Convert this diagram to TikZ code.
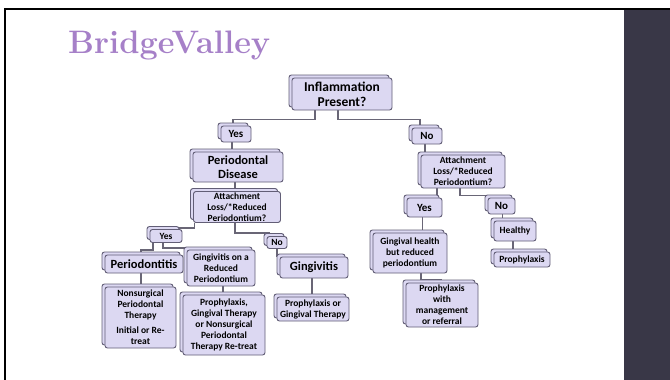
\documentclass[tikz,border=0pt]{standalone}
\usepackage{fontspec}
\newfontfamily\boxfont{Carlito}
\usetikzlibrary{backgrounds}
\definecolor{boxfill}{RGB}{220,216,242}
\definecolor{boxline}{RGB}{98,94,118}
\definecolor{linkcol}{RGB}{105,102,118}
\definecolor{titlecol}{RGB}{166,128,200}
\definecolor{panel}{RGB}{57,55,71}
\tikzset{
  flowbox/.style={rectangle, rounded corners=2.5pt, draw=boxline, fill=boxfill,
    line width=0.9pt,
    % a second, identical box peeking out above and to the left
    preaction={draw=boxline, fill=boxfill, line width=0.9pt,
      transform canvas={xshift=-3pt, yshift=3pt}},
    align=center, inner sep=1pt, text=black},
  bigtxt/.style={font=\boxfont\bfseries\fontsize{13.5}{15}\selectfont},
  midtxt/.style={font=\boxfont\bfseries\fontsize{12.5}{14}\selectfont},
  anstxt/.style={font=\boxfont\bfseries\fontsize{11}{13}\selectfont},
  smalltxt/.style={font=\boxfont\bfseries\fontsize{9.5}{11}\selectfont},
  link/.style={draw=linkcol, line width=1.1pt},
}
\begin{document}
\begin{tikzpicture}[x=1pt,y=-1pt]
\useasboundingbox (0,0) rectangle (670,380);
% heading
\node[anchor=base west, inner sep=0, text=titlecol,
  font=\fontsize{32.5}{38}\selectfont\bfseries] (title) at (68,53) {BridgeValley};

% decision tree
\node[flowbox, bigtxt, minimum width=100pt, minimum height=32pt] (inf) at (342,94) {Inflammation\\Present?};
\node[flowbox, anstxt, minimum width=30pt, minimum height=16pt] (yes1) at (236,134) {Yes};
\node[flowbox, anstxt, minimum width=30pt, minimum height=16pt] (no1) at (427,136) {No};
\node[flowbox, midtxt, minimum width=90pt, minimum height=30pt] (pd) at (238,167) {Periodontal\\Disease};
\node[flowbox, smalltxt, minimum width=87pt, minimum height=31pt] (attL) at (237,207) {Attachment\\Loss/*Reduced\\Periodontium?};
\node[flowbox, smalltxt, minimum width=84pt, minimum height=33pt] (attR) at (463,171.5) {Attachment\\Loss/*Reduced\\Periodontium?};
\node[flowbox, smalltxt, minimum width=32pt, minimum height=13pt] (yes2) at (166,236) {Yes};
\node[flowbox, smalltxt, minimum width=20pt, minimum height=12pt] (no2) at (277,242.5) {No};
\node[flowbox, midtxt, minimum width=78pt, minimum height=18pt] (perio) at (144,264) {Periodontitis};
\node[flowbox, smalltxt, minimum width=68pt, minimum height=36pt] (gingR) at (221,268) {Gingivitis on a\\Reduced\\Periodontium};
\node[flowbox, midtxt, minimum width=68pt, minimum height=21pt] (ging) at (314,267.5) {Gingivitis};
\node[flowbox, smalltxt, minimum width=71pt, minimum height=61pt] (nonsurg) at (140.5,317.5) {Nonsurgical\\Periodontal\\Therapy\\[4pt]Initial or Re-\\treat};
\node[flowbox, smalltxt, minimum width=82pt, minimum height=60pt] (prophGT) at (224,325) {Prophylaxis,\\Gingival Therapy\\or Nonsurgical\\Periodontal\\Therapy Re-treat};
\node[flowbox, smalltxt, minimum width=72pt, minimum height=24pt] (propOr) at (313,309) {Prophylaxis or\\Gingival Therapy};
\node[flowbox, anstxt, minimum width=35pt, minimum height=19pt] (yes3) at (424.5,207.5) {Yes};
\node[flowbox, anstxt, minimum width=27pt, minimum height=16pt] (no3) at (501.5,206) {No};
\node[flowbox, smalltxt, minimum width=42pt, minimum height=20pt] (healthy) at (515,231) {Healthy};
\node[flowbox, smalltxt, minimum width=56pt, minimum height=15pt] (prophR) at (522,259.5) {Prophylaxis};
\node[flowbox, smalltxt, minimum width=74pt, minimum height=40pt] (gingH) at (410,253) {Gingival health\\but reduced\\periodontium};
\node[flowbox, smalltxt, minimum width=72pt, minimum height=44pt] (prophM) at (442,305) {Prophylaxis\\with\\management\\or referral};

\begin{scope}[on background layer]
% slide ground, frame and side panel
\fill[white] (0,0) rectangle (670,380);
\fill[panel] (624,10) rectangle (670,380);
\draw[black, line width=2.2pt] (5,380) -- (5,8.8) -- (670,8.8);
% connectors, kept behind the boxes
\draw[link] ([xshift=-27pt]inf.south) -- ++(0,9) -| ([xshift=-3pt]yes1.north);
\draw[link] ([xshift=-4pt]inf.south) -- ++(0,9) -| ([xshift=-7pt]no1.north);
\draw[link] ([xshift=-4pt]yes1.south) |- (pd.north);
\draw[link] ([xshift=-3pt]pd.south) |- (attL.north);
\draw[link] ([xshift=1pt]attL.south west) -- ++(0,5) -| ([xshift=-14pt]yes2.north);
\draw[link] ([xshift=-2pt]attL.south) -- ++(0,10) -| ([xshift=-8pt]no2.north);
\draw[link] ([xshift=-13pt]yes2.south) -- ++(0,7) -| ([xshift=-3pt]perio.north);
\draw[link] ([xshift=-3pt]yes2.south) -- ++(0,5) -| ([xshift=1pt]gingR.north);
\draw[link] (no2.south) |- (ging.north);
\draw[link] ([xshift=-3pt]perio.south) |- (nonsurg.north);
\draw[link] ([xshift=2pt]gingR.south) |- (prophGT.north);
\draw[link] ([xshift=-2pt]ging.south) |- (propOr.north);
\draw[link] ([xshift=-2pt]no1.south) |- (attR.north);
\draw[link] ([xshift=-26pt]attR.south) |- (yes3.north);
\draw[link] ([xshift=-3pt]attR.south) -- ++(0,7) -| ([xshift=-9pt]no3.north);
\draw[link] ([xshift=-2pt]yes3.south) |- (gingH.north);
\draw[link] ([xshift=1pt]no3.south) |- (healthy.north);
\draw[link] ([xshift=-2pt]healthy.south) |- (prophR.north);
\draw[link] ([xshift=11pt]gingH.south) |- ([yshift=3pt]prophM.north);
\end{scope}
\end{tikzpicture}
\end{document}
